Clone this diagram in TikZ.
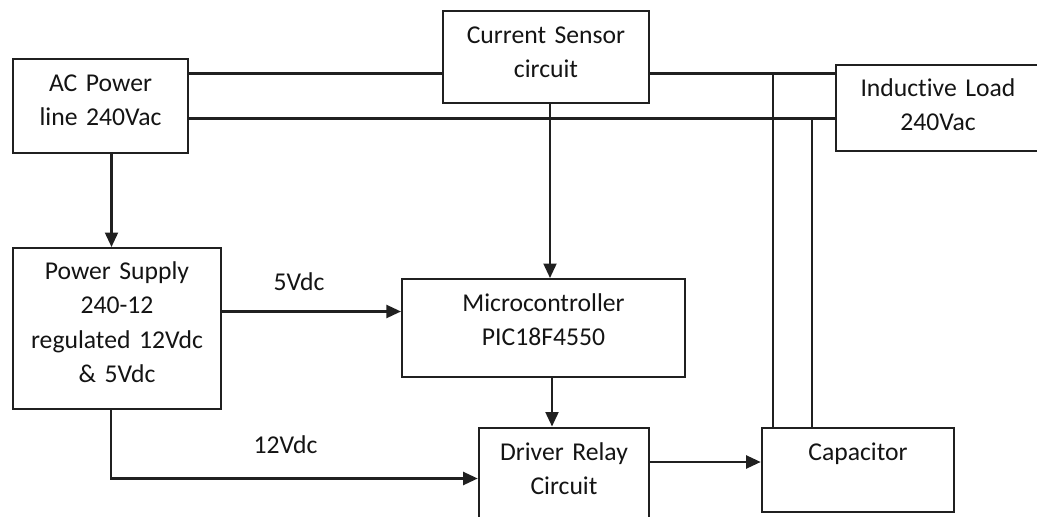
\documentclass[tikz,border=0pt]{standalone}
\usepackage{fontspec}
\setmainfont{Carlito}[Ligatures=NoCommon]
\usepackage{xcolor}
\usepackage{tikz}
\usetikzlibrary{arrows.meta,positioning,calc}
\definecolor{ink}{HTML}{141414}
\definecolor{wire}{HTML}{202020}
\tikzset{
  block/.style={draw=wire,line width=1.2pt,anchor=north,inner sep=0pt,
                align=center,text=ink,text height=0.65cm,
                font=\fontsize{14.6}{19.5}\selectfont},
  link/.style={wire,line width=1.2pt},
  feed/.style={-{Triangle[length=2.9mm,width=2.6mm]},line width=1.2pt,wire},
  tag/.style={text=ink,anchor=base,font=\fontsize{14.6}{19.5}\selectfont},
}

\begin{document}
\begin{tikzpicture}
  \useasboundingbox (0,0) rectangle (20.74,10.32);
  \clip (0,0) rectangle (20.74,10.32);
  % Blocks
  \node[block,text width=3.5cm,text depth=1.23cm] (ac) at (2.01,9.16)
    {AC Power\\line 240Vac};
  \node[block,text width=4.12cm,text depth=1.18cm] (cs) at (10.92,10.12)
    {Current Sensor\\circuit};
  \node[block,text width=4.09cm,text depth=1.10cm,text height=0.634cm]
    (il) at (18.76,9.05) {Inductive Load\\240Vac};
  \node[block,text width=4.16cm,text depth=2.59cm,text height=0.63cm]
    (ps) at (2.34,5.38) {Power Supply\\240-12\\regulated 12Vdc\\\& 5Vdc};
  \node[block,text width=5.66cm,text depth=1.32cm,text height=0.64cm]
    (mc) at (10.87,4.76) {Microcontroller\\PIC18F4550};
  \node[block,text width=3.41cm,text depth=2.0cm] (dr) at (11.28,1.79)
    {Driver Relay\\Circuit};
  \node[block,text width=3.85cm,text depth=1.03cm] (cap) at (17.16,1.79)
    {Capacitor};
  % Mains wiring
  \coordinate (hot) at ([yshift=-0.31cm]ac.north east);
  \coordinate (ret) at ([yshift=-1.21cm]ac.north east);
  \draw[link] (hot) -- (hot -| cs.west);
  \draw[link] (cs.east |- hot) -- (hot -| il.west);
  \draw[link] (ret) -- (ret -| il.west);
  % Capacitor taps
  \coordinate (tapa) at ([xshift=0.25cm]cap.north west);
  \coordinate (tapb) at ([xshift=1.03cm]cap.north west);
  \draw[link] (tapa |- hot) -- (tapa);
  \draw[link] (tapb |- ret) -- (tapb);
  % Signal arrows
  \coordinate (acdown) at ([xshift=0.22cm]ac.south);
  \draw[feed] (acdown) -- (acdown |- ps.north);
  \coordinate (sense) at ([xshift=0.08cm]cs.south);
  \draw[feed] (sense) -- (sense |- mc.north);
  \coordinate (fivev) at ([yshift=-1.29cm]ps.north east);
  \draw[feed] (fivev) -- (fivev -| mc.west);
  \coordinate (drv) at ([xshift=0.17cm]mc.south);
  \draw[feed] (drv) -- (drv |- dr.north);
  \coordinate (twelve) at ([xshift=-0.12cm]ps.south);
  \draw[feed] (twelve) |- ([yshift=-1.04cm]dr.north west);
  \draw[feed] ([yshift=-0.71cm]dr.north east) -- ([yshift=-0.71cm]cap.north west);
  % Supply labels
  \node[tag] (fivelbl) at (5.98,4.51) {5Vdc};
  \node[tag] (twelvelbl) at (5.71,1.25) {12Vdc};
\end{tikzpicture}
\end{document}
